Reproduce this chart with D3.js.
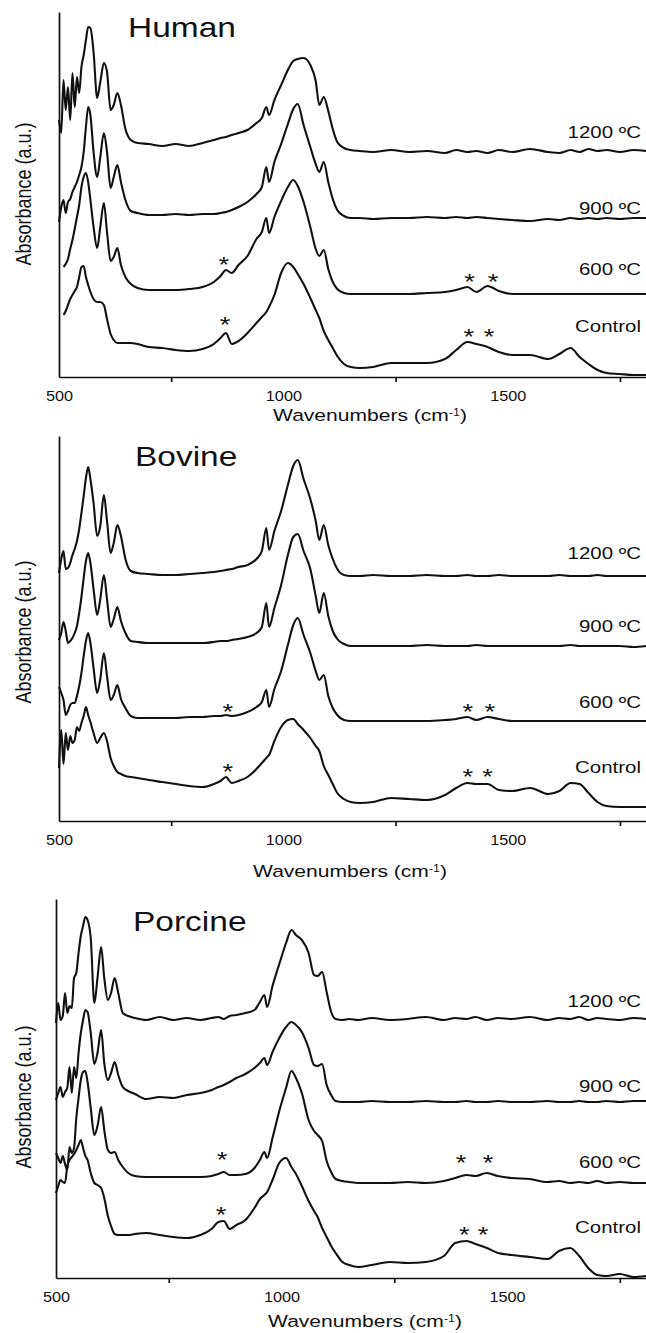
<!DOCTYPE html>
<html>
<head>
<meta charset="utf-8">
<script src="https://cdn.jsdelivr.net/npm/d3@7"></script>
<style>
  body { margin: 0; background: #fff; }
  svg text { font-family: "Liberation Sans", Arial, sans-serif; fill: #111; }
</style>
</head>
<body>
<div id="chart"></div>
<script>
// shared wavenumber grid (cm-1) every spectrum is sampled on
const wavenumbers = [
  500, 505, 510, 515, 520, 525, 530, 535, 540, 545,
  550, 555, 560, 565, 570, 577, 585, 592, 600, 607,
  615, 622, 630, 638, 648, 660, 675, 700, 730, 760,
  790, 820, 845, 860, 872, 885, 900, 920, 940, 952,
  962, 968, 980, 995, 1010, 1022, 1032, 1045, 1060, 1072,
  1080, 1090, 1100, 1110, 1120, 1135, 1150, 1170, 1200, 1240,
  1280, 1320, 1360, 1385, 1410, 1430, 1455, 1480, 1510, 1550,
  1590, 1615, 1640, 1660, 1680, 1700, 1720, 1750, 1780, 1808
];

const panelNames = ["Human", "Bovine", "Porcine"];
const temperatures = ["1200 ºC", "900 ºC", "600 ºC", "Control"];
const majorTicks = [500, 1000, 1500];
const minorTicks = [750, 1250, 1750];

// absorbance, arbitrary units (stacked offsets included)
const human1200 = [
  257, 244, 297, 267, 290, 257, 304, 270, 300, 284,
  310, 322, 337, 350, 349, 325, 279, 295, 314, 305,
  267, 272, 284, 272, 248, 237, 234, 233, 231, 233,
  231, 234, 237, 239, 240, 242, 244, 247, 254, 259,
  270, 262, 277, 292, 307, 316, 318, 319, 312, 296,
  272, 280, 266, 248, 235, 229, 227, 226, 225, 227,
  225, 226, 224, 227, 225, 226, 224, 227, 225, 228,
  225, 224, 227, 225, 228, 226, 227, 225, 227, 226
];
const human900 = [
  155, 170, 177, 164, 175, 178, 185, 190, 195, 202,
  210, 225, 250, 270, 262, 225, 200, 220, 244, 225,
  189, 200, 212, 195, 177, 166, 164, 162, 162, 163,
  162, 163, 163, 164, 165, 167, 170, 175, 183, 190,
  210, 195, 215, 233, 253, 268, 273, 252, 230, 213,
  205, 215, 195, 178, 167, 161, 159, 159, 158, 159,
  159, 160, 159, 160, 159, 160, 159, 158, 157, 156,
  158, 157, 159, 158, 159, 158, 159, 158, 159, 159
];
const human600 = [
  null, null, 110, 113, 118, 128, 137, 148, 160, 172,
  190, 200, 204, 195, 177, 150, 129, 150, 174, 145,
  116, 120, 129, 112, 100, 93, 89, 87, 87, 87,
  88, 90, 95, 101, 107, 104, 112, 121, 138, 145,
  159, 144, 160, 176, 190, 197, 191, 175, 150, 128,
  121, 127, 108, 95, 88, 84, 83, 83, 83, 83,
  83, 84, 85, 87, 90, 85, 91, 86, 83, 83,
  83, 83, 83, 83, 83, 83, 83, 83, 83, 83
];
const humanControl = [
  null, null, 62, 66, 72, 78, 82, 86, 90, 100,
  110, 111, 100, 92, 85, 78, 75, 75, 72, 58,
  43, 37, 34, 34, 34, 34, 33, 30, 29, 27,
  26, 28, 33, 39, 44, 33, 36, 44, 54, 60,
  65, 70, 82, 104, 114, 110, 103, 93, 79, 67,
  59, 46, 37, 29, 21, 13, 10, 9, 10, 14,
  14, 14, 18, 27, 35, 33, 30, 25, 22, 22,
  18, 23, 29, 20, 13, 7, 4, 3, 2, 2
];

const bovine1200 = [
  248, 262, 270, 252, 253, 258, 266, 272, 280, 292,
  308, 325, 343, 354, 342, 318, 285, 295, 326, 300,
  268, 278, 296, 285, 262, 250, 248, 247, 246, 246,
  247, 248, 249, 250, 251, 252, 254, 256, 262, 270,
  293, 271, 290, 310, 336, 355, 361, 342, 322, 300,
  281, 296, 276, 262, 252, 246, 245, 245, 246, 245,
  245, 246, 245, 245, 246, 245, 245, 246, 245, 245,
  245, 246, 245, 245, 245, 246, 245, 245, 245, 245
];
const bovine900 = [
  181, 188, 199, 190, 178, 180, 183, 188, 195, 208,
  224, 243, 260, 268, 258, 232, 206, 222, 246, 222,
  194, 202, 214, 200, 188, 180, 179, 178, 178, 178,
  178, 178, 179, 180, 180, 181, 182, 184, 188, 194,
  218, 194, 213, 236, 266, 284, 287, 270, 252, 225,
  208, 228, 205, 190, 182, 177, 175, 175, 175, 175,
  175, 176, 175, 175, 175, 176, 175, 175, 175, 175,
  175, 175, 176, 175, 175, 175, 175, 175, 174, 175
];
const bovine600 = [
  134, 128, 121, 106, 110, 116, 118, 118, 125, 135,
  148, 165, 180, 188, 178, 153, 128, 142, 168, 145,
  121, 126, 136, 122, 113, 105, 103, 103, 103, 103,
  104, 104, 105, 105, 106, 105, 106, 109, 114, 119,
  131, 114, 132, 150, 176, 196, 203, 186, 168, 150,
  141, 146, 125, 113, 106, 101, 100, 100, 100, 100,
  100, 100, 101, 102, 104, 101, 104, 102, 100, 100,
  100, 100, 100, 100, 100, 100, 100, 100, 100, 100
];
const bovineControl = [
  53, 91, 57, 88, 71, 85, 78, 81, 94, 90,
  98, 105, 114, 106, 99, 88, 78, 83, 88, 80,
  63, 55, 49, 47, 45, 44, 43, 41, 39, 37,
  35, 34, 37, 40, 44, 38, 40, 44, 52, 58,
  63, 66, 80, 94, 101, 102, 97, 91, 83, 75,
  70, 55, 46, 37, 28, 22, 19, 18, 19, 23,
  22, 21, 26, 33, 38, 37, 37, 31, 30, 33,
  27, 30, 38, 37, 28, 19, 15, 14, 14, 14
];

const porcine1200 = [
  255, 275, 258, 262, 285, 265, 272, 270, 300, 305,
  325, 342, 352, 361, 358, 340, 275, 300, 331, 300,
  278, 285, 300, 285, 265, 262, 260, 258, 261, 258,
  260, 258, 260, 261, 259, 262, 263, 265, 268, 276,
  283, 271, 292, 314, 335, 348, 343, 338, 325, 303,
  302, 306, 286, 266, 259, 258, 259, 258, 260, 258,
  259, 261, 258, 260, 259, 261, 258, 260, 259, 261,
  258, 260, 259, 261, 258, 260, 259, 258, 260, 259
];
const porcine900 = [
  178, 185, 191, 181, 186, 190, 211, 185, 211, 200,
  225, 245, 258, 268, 266, 245, 214, 225, 248, 215,
  198, 205, 216, 203, 191, 187, 184, 179, 181, 180,
  183, 185, 188, 191, 193, 196, 200, 204, 210, 215,
  220, 213, 226, 240, 251, 256, 253, 246, 230, 213,
  212, 214, 193, 183, 177, 176, 176, 176, 177, 176,
  176, 177, 176, 176, 177, 176, 176, 177, 176, 176,
  177, 176, 176, 177, 176, 176, 177, 176, 177, 177
];
const porcine600 = [
  125, 120, 115, 122, 114, 108, 131, 125, 130, 160,
  180, 198, 206, 207, 196, 170, 143, 152, 171, 148,
  128, 125, 126, 118, 111, 105, 102, 101, 101, 101,
  101, 101, 102, 104, 106, 103, 103, 104, 110, 118,
  126, 120, 140, 167, 190, 207, 200, 185, 158, 147,
  143, 137, 117, 106, 99, 97, 96, 95, 95, 95,
  96, 95, 97, 100, 103, 102, 105, 102, 100, 99,
  96, 97, 95, 96, 95, 97, 95, 96, 95, 95
];
const porcineControl = [
  85, 92, 98, 96, 95, 112, 118, 121, 124, 128,
  133, 138, 130, 122, 118, 105, 95, 93, 90, 80,
  62, 52, 44, 43, 43, 43, 44, 45, 43, 41,
  40, 43, 49, 56, 57, 49, 53, 58, 70, 79,
  83, 86, 98, 115, 120, 111, 104, 92, 77, 67,
  61, 50, 41, 32, 25, 16, 13, 11, 13, 16,
  15, 16, 22, 35, 37, 34, 30, 25, 23, 21,
  19, 27, 30, 22, 10, 3, 2, 4, 1, 2
];

// level (a.u.) of each curve label, same order as temperatures
const humanLabelLevels = [239, 163, 102, 45];
const bovineLabelLevels = [262, 189, 113, 48];
const porcineLabelLevels = [271, 186, 110, 45];

// asterisks: [wavenumber, level]
const humanStars = [[867, 105], [870, 45], [1415, 88], [1467, 88], [1413, 33], [1458, 33]];
const bovineStars = [[876, 102], [876, 42], [1411, 102], [1460, 102], [1411, 37], [1455, 37]];
const porcineStars = [[868, 111], [866, 56], [1398, 108], [1458, 108], [1405, 36], [1447, 36]];

const width = 646;
const height = 1333;
const stretch = 1.24; // glyphs in the figure are drawn wide
const ink = "#111";

const panels = [
  { name: panelNames[0], series: [human1200, human900, human600, humanControl], levels: humanLabelLevels, stars: humanStars,
    top: 12, bottom: 377, left: 59, titleX: 128, titleY: 37, xTitleX: 370, xTitleY: 421, yTitleY: 194 },
  { name: panelNames[1], series: [bovine1200, bovine900, bovine600, bovineControl], levels: bovineLabelLevels, stars: bovineStars,
    top: 436, bottom: 821, left: 59, titleX: 135, titleY: 466, xTitleX: 350, xTitleY: 877, yTitleY: 632 },
  { name: panelNames[2], series: [porcine1200, porcine900, porcine600, porcineControl], levels: porcineLabelLevels, stars: porcineStars,
    top: 899, bottom: 1278, left: 56, titleX: 133, titleY: 931, xTitleX: 365, xTitleY: 1327, yTitleY: 1097 }
];

const svg = d3.select("#chart")
  .append("svg")
  .attr("width", width)
  .attr("height", height);

function wideText(g, x, y, str, size, anchor) {
  return g.append("text")
    .attr("transform", "translate(" + x + "," + y + ") scale(" + stretch + ",1)")
    .attr("text-anchor", anchor)
    .style("font-size", size + "px")
    .text(str);
}

panels.forEach(p => {
  const g = svg.append("g");

  const x = d3.scaleLinear()
    .domain([500, 1808])
    .range([p.left, width]);

  const y = d3.scaleLinear()
    .domain([0, p.bottom - p.top])
    .range([p.bottom, p.top]);

  // spectra
  const line = d3.line()
    .defined(d => d[1] != null)
    .x(d => x(d[0]))
    .y(d => y(d[1]))
    .curve(d3.curveMonotoneX);

  p.series.forEach(values => {
    g.append("path")
      .datum(wavenumbers.map((w, i) => [w, values[i]]))
      .attr("fill", "none")
      .attr("stroke", ink)
      .attr("stroke-width", 2.1)
      .attr("stroke-linejoin", "round")
      .attr("d", line);
  });

  // x axis: minor ticks point down, majors only carry labels
  const minorAxis = g.append("g")
    .attr("transform", "translate(0," + p.bottom + ")")
    .call(d3.axisBottom(x).tickValues(minorTicks).tickSize(5).tickSizeOuter(0).tickFormat(""));
  minorAxis.selectAll("path, line").attr("stroke", ink).attr("stroke-width", 1.7);

  const majorAxis = g.append("g")
    .attr("transform", "translate(0," + p.bottom + ")")
    .call(d3.axisBottom(x).tickValues(majorTicks).tickSize(0).tickPadding(14).tickFormat(d3.format("d")));
  majorAxis.select(".domain").remove();
  majorAxis.selectAll("text")
    .attr("transform", "scale(1.12,1)")
    .style("font-size", "14.5px")
    .style("font-family", "'Liberation Sans', Arial, sans-serif")
    .attr("fill", ink);

  // y axis, no ticks
  const yAxis = g.append("g")
    .attr("transform", "translate(" + p.left + ",0)")
    .call(d3.axisLeft(y).tickValues([]).tickSizeOuter(0));
  yAxis.select(".domain").attr("stroke", ink).attr("stroke-width", 1.7);

  // titles
  wideText(g, p.titleX, p.titleY, p.name, 27, "start");

  const xt = wideText(g, p.xTitleX, p.xTitleY, "Wavenumbers (cm", 17, "middle");
  xt.append("tspan").attr("baseline-shift", "super").style("font-size", "10px").text("-1");
  xt.append("tspan").text(")");

  g.append("text")
    .attr("transform", "translate(31," + p.yTitleY + ") scale(" + stretch + ",1) rotate(-90)")
    .attr("text-anchor", "middle")
    .style("font-size", "18px")
    .text("Absorbance (a.u.)");

  // curve labels
  temperatures.forEach((t, i) => {
    wideText(g, 641, y(p.levels[i]), t, 16.5, "end");
  });

  // asterisks
  p.stars.forEach(s => {
    wideText(g, x(s[0]), y(s[1]), "*", 22, "middle");
  });
});
</script>
</body>
</html>
